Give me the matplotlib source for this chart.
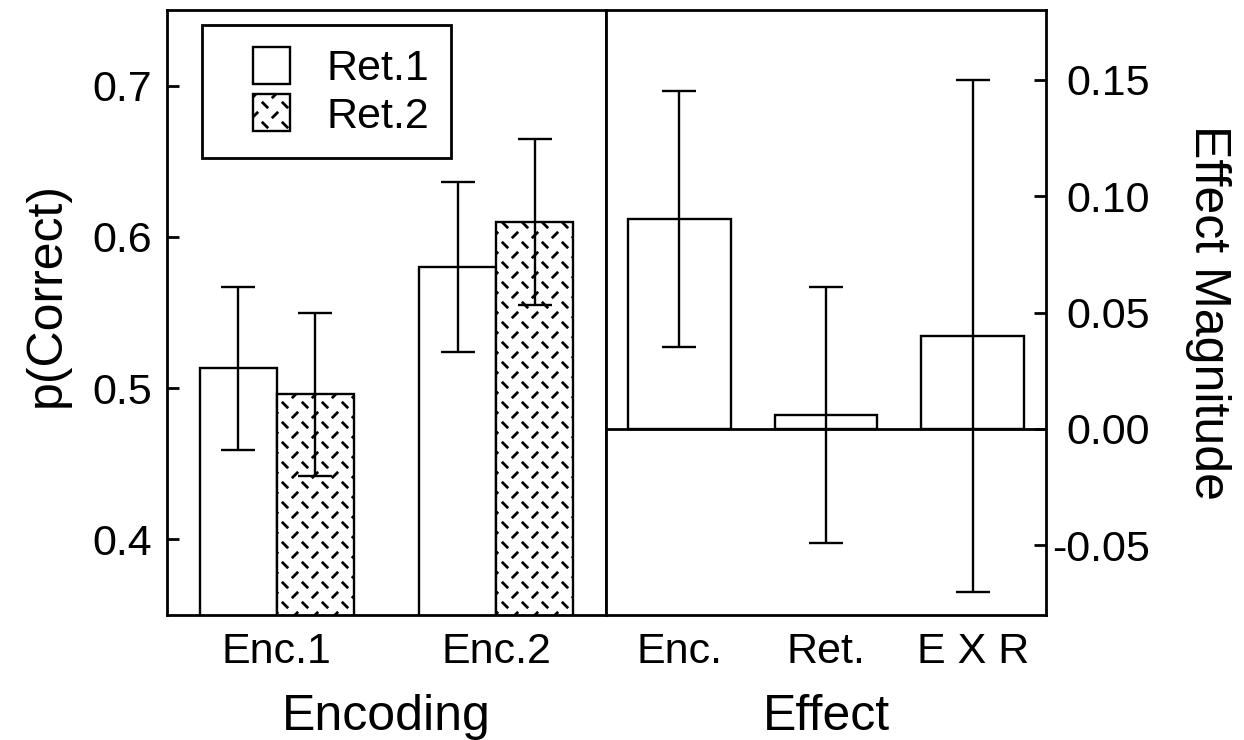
import warnings
import numpy as np
import matplotlib
matplotlib.use("Agg")
import matplotlib.pyplot as plt
import matplotlib.hatch as mhatch
from matplotlib.path import Path
from matplotlib.patches import Rectangle
from matplotlib.legend_handler import HandlerPatch

# 'd' is our own hatch letter, matplotlib warns about unknown letters
warnings.filterwarnings("ignore", message="hatch must consist")

# p(Correct) by encoding condition and retrieval condition
encoding = ["Enc.1", "Enc.2"]
retrieval = ["Ret.1", "Ret.2"]
p_ret1 = [0.513, 0.580]
p_ret2 = [0.496, 0.610]
err_ret1 = [0.054, 0.056]
err_ret2 = [0.054, 0.055]

# effect magnitudes
effects = ["Enc.", "Ret.", "E X R"]
effect_size = [0.090, 0.006, 0.040]
effect_err = [0.055, 0.055, 0.110]

left_ticks = [0.4, 0.5, 0.6, 0.7]
left_ticklabels = ["0.4", "0.5", "0.6", "0.7"]
right_ticks = [-0.05, 0.0, 0.05, 0.10, 0.15]
right_ticklabels = ["-0.05", "0.00", "0.05", "0.10", "0.15"]


class DashHatch(mhatch.HatchPatternBase):
    """Short '\\' and '/' strokes laid out on a checkerboard."""

    def __init__(self, hatch, density):
        self.cells = 5 * hatch.count("d")
        self.num_vertices = 4 * self.cells * self.cells

    def set_vertices_and_codes(self, vertices, codes):
        n = self.cells
        step = 1.0 / n
        h = 0.11 * step
        pts = []
        for i in range(n):
            for j in range(n):
                x0, y0 = i * step, j * step
                cx, cy = x0 + 0.25 * step, y0 + 0.75 * step
                pts += [(cx - h, cy + h), (cx + h, cy - h)]
                cx, cy = x0 + 0.75 * step, y0 + 0.25 * step
                pts += [(cx - h, cy - h), (cx + h, cy + h)]
        vertices[:] = pts
        codes[0::2] = Path.MOVETO
        codes[1::2] = Path.LINETO


mhatch._hatch_types.append(DashHatch)


def square_patch(legend, orig_handle, xdescent, ydescent, width, height, fontsize):
    # square key drawn at the right end of the handle box
    return Rectangle((-xdescent + width - height, -ydescent), height, height)


plt.rcParams["font.family"] = ["Liberation Sans", "DejaVu Sans"]
plt.rcParams["hatch.linewidth"] = 2.0
plt.rcParams["hatch.color"] = "black"
plt.rcParams["axes.linewidth"] = 2.0

TICK_FS = 31
LABEL_FS = 36
bar_style = dict(facecolor="white", edgecolor="black", linewidth=1.7)
err_style = dict(elinewidth=1.7, capthick=1.7, ecolor="black")

fig = plt.figure(figsize=(12.44, 7.4), dpi=100)
ax1 = fig.add_axes([167 / 1244, 125 / 740, 439 / 1244, 605 / 740])
ax2 = fig.add_axes([606 / 1244, 125 / 740, 440 / 1244, 605 / 740])

# left panel: grouped bars
x = np.arange(len(encoding))
w = 0.35
ax1.bar(x - w / 2, p_ret1, w, yerr=err_ret1, capsize=12, error_kw=err_style, **bar_style)
ax1.bar(x + w / 2, p_ret2, w, yerr=err_ret2, capsize=12, error_kw=err_style,
        hatch="d", **bar_style)
ax1.set_xlim(-0.5, 1.5)
ax1.set_ylim(0.35, 0.75)
ax1.set_xticks(x)
ax1.set_xticklabels(encoding)
ax1.set_yticks(left_ticks)
ax1.set_yticklabels(left_ticklabels)
ax1.tick_params(axis="y", direction="in", length=8.5, width=2, labelsize=TICK_FS, pad=11)
ax1.tick_params(axis="x", length=0, labelsize=TICK_FS, pad=12)
ax1.set_xlabel("Encoding", fontsize=LABEL_FS)
ax1.xaxis.set_label_coords(0.5, -0.13)
ax1.set_ylabel("p(Correct)", fontsize=LABEL_FS)
ax1.yaxis.set_label_coords(-0.221, 0.53)

handles = [Rectangle((0, 0), 1, 1, **bar_style),
           Rectangle((0, 0), 1, 1, hatch="d", **bar_style)]
leg = ax1.legend(handles, retrieval, loc="upper left", bbox_to_anchor=(0.08, 0.975),
                 borderaxespad=0, fontsize=31, fancybox=False, edgecolor="black",
                 framealpha=1, borderpad=0.5, labelspacing=0.12, handlelength=1.55,
                 handleheight=0.95, handletextpad=0.85,
                 handler_map={Rectangle: HandlerPatch(patch_func=square_patch)})
leg.get_frame().set_linewidth(2.0)

# right panel: effect sizes
xe = np.arange(len(effects))
ax2.axhline(0, color="black", linewidth=2.0, zorder=1)
ax2.bar(xe, effect_size, 0.7, yerr=effect_err, capsize=12, error_kw=err_style,
        zorder=2, **bar_style)
ax2.set_xlim(-0.5, 2.5)
ax2.set_ylim(-0.08, 0.18)
ax2.set_xticks(xe)
ax2.set_xticklabels(effects)
ax2.yaxis.tick_right()
ax2.set_yticks(right_ticks)
ax2.set_yticklabels(right_ticklabels, ha="right")
ax2.tick_params(axis="y", direction="in", length=8.5, width=2, labelsize=TICK_FS, pad=75)
ax2.tick_params(axis="x", length=0, labelsize=TICK_FS, pad=12)
ax2.set_xlabel("Effect", fontsize=LABEL_FS)
ax2.xaxis.set_label_coords(0.5, -0.13)
ax2.yaxis.set_label_position("right")
ax2.set_ylabel("Effect Magnitude", fontsize=LABEL_FS, rotation=270, va="bottom")
ax2.yaxis.set_label_coords(1.316, 0.5)

fig.savefig("out.png", dpi=100)
